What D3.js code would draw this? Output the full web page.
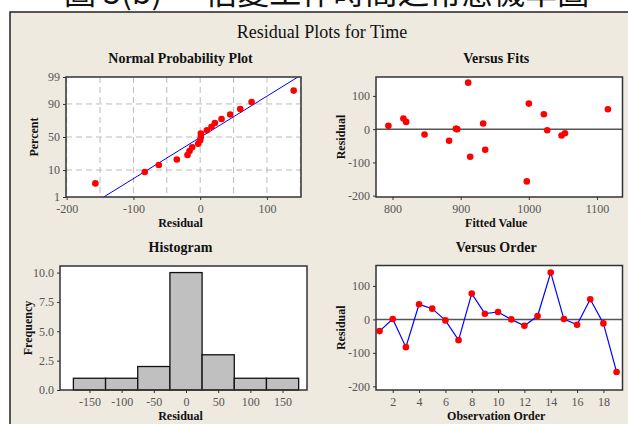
<!DOCTYPE html>
<html>
<head>
<meta charset="utf-8">
<script src="https://cdn.jsdelivr.net/npm/d3@7"></script>
<style>
body{margin:0;background:#fff;overflow:hidden;}
svg text{font-family:"Liberation Serif","DejaVu Serif",serif;}
.tick text{fill:#555;font-size:12px;}
.tick line{stroke:#333;}
.domain{display:none;}
.ttl{font-weight:bold;font-size:14px;fill:#111;}
.lab{font-weight:bold;font-size:12px;fill:#111;}
</style>
</head>
<body>
<svg id="chart" width="628" height="424"></svg>
<script>
//データ
var residuals=[-35,1,-83,45,32,-3,-62,77,17,22,0,-19,10,140,1,-16,60,-12,-157];
var fits=[883,893,914,1022,816,1027,936,1000,933,820,895,1048,794,911,894,847,1116,1053,997];
var order=d3.range(1,20);
var pctTicks=[1,10,50,90,99];
var histBins=[-175,-125,-75,-25,25,75,125,175];

var svg=d3.select("#chart");

//上の切れた見出し
svg.append("text")
	.attr("x",64).attr("y",4)
	.style("font-family","'Noto Sans CJK TC'")
	.style("font-size","32px")
	.style("fill","#111")
	.text("圖 5(b) — 估變工作時間之常態機率圖");

//外枠
svg.append("rect")
	.attr("x",10).attr("y",12).attr("width",640).attr("height",440)
	.attr("fill","#eeeae0").attr("stroke","#222").attr("stroke-width",1.5);

svg.append("text")
	.attr("x",322).attr("y",38)
	.attr("text-anchor","middle")
	.style("font-size","18px").style("fill","#111")
	.text("Residual Plots for Time");

//逆正規分布（Acklam）
function qnorm(p){
	var a=[-39.69683028665376,220.9460984245205,-275.9285104469687,138.3577518672690,-30.66479806614716,2.506628277459239];
	var b=[-54.47609879822406,161.5858368580409,-155.6989798598866,66.80131188771972,-13.28068155288572];
	var c=[-0.007784894002430293,-0.3223964580411365,-2.400758277161838,-2.549732539343734,4.374664141464968,2.938163982698783];
	var d=[0.007784695709041462,0.3224671290700398,2.445134137142996,3.754408661907416];
	var q,r;
	if(p<0.02425){
		q=Math.sqrt(-2*Math.log(p));
		return (((((c[0]*q+c[1])*q+c[2])*q+c[3])*q+c[4])*q+c[5])/((((d[0]*q+d[1])*q+d[2])*q+d[3])*q+1);
	}else if(p>1-0.02425){
		q=Math.sqrt(-2*Math.log(1-p));
		return -(((((c[0]*q+c[1])*q+c[2])*q+c[3])*q+c[4])*q+c[5])/((((d[0]*q+d[1])*q+d[2])*q+d[3])*q+1);
	}
	q=p-0.5;r=q*q;
	return (((((a[0]*r+a[1])*r+a[2])*r+a[3])*r+a[4])*r+a[5])*q/(((((b[0]*r+b[1])*r+b[2])*r+b[3])*r+b[4])*r+1);
}

function plain(d){return String(d);}

function panelBox(b){
	svg.append("rect")
		.attr("x",b.x0).attr("y",b.y0).attr("width",b.x1-b.x0).attr("height",b.y1-b.y0)
		.attr("fill","#fff");
}
function panelFrame(b){
	svg.append("rect")
		.attr("x",b.x0).attr("y",b.y0).attr("width",b.x1-b.x0).attr("height",b.y1-b.y0)
		.attr("fill","none").attr("stroke","#333").attr("stroke-width",1.5);
}
function titles(b,title,xlab,ylab,ylabX){
	var cx=(b.x0+b.x1)/2;
	svg.append("text").attr("class","ttl").attr("x",cx-3).attr("y",b.y0-14)
		.attr("text-anchor","middle").text(title);
	svg.append("text").attr("class","lab").attr("x",cx-3).attr("y",b.y1+30)
		.attr("text-anchor","middle").text(xlab);
	svg.append("text").attr("class","lab")
		.attr("transform","translate("+ylabX+","+((b.y0+b.y1)/2)+") rotate(-90)")
		.attr("text-anchor","middle").text(ylab);
}
function axes(b,x,y,xt,yt,yfmt){
	svg.append("g").attr("transform","translate(0,"+b.y1+")")
		.call(d3.axisBottom(x).tickValues(xt).tickSize(3).tickPadding(4).tickFormat(plain));
	var ya=d3.axisLeft(y).tickValues(yt).tickSize(3).tickPadding(3).tickFormat(yfmt||plain);
	svg.append("g").attr("transform","translate("+b.x0+",0)").call(ya);
}

//1. Normal Probability Plot
var b1={x0:66,x1:301,y0:77,y1:197};
var n=residuals.length;
var sorted=residuals.slice().sort(function(a,b){return a-b;});
var mean=d3.mean(residuals),sd=d3.deviation(residuals);
var x1=d3.scaleLinear().domain([-201,151]).range([b1.x0,b1.x1]);
var y1=d3.scaleLinear().domain([qnorm(0.01),qnorm(0.99)]).range([b1.y1,b1.y0]);
panelBox(b1);
svg.append("g").selectAll("line").data(d3.range(-200,151,50)).enter().append("line")
	.attr("x1",function(d){return x1(d);}).attr("x2",function(d){return x1(d);})
	.attr("y1",b1.y0).attr("y2",b1.y1)
	.attr("stroke","#bbb").attr("stroke-dasharray","6,4");
svg.append("g").selectAll("line").data([10,50,90]).enter().append("line")
	.attr("x1",b1.x0).attr("x2",b1.x1)
	.attr("y1",function(d){return y1(qnorm(d/100));}).attr("y2",function(d){return y1(qnorm(d/100));})
	.attr("stroke","#bbb").attr("stroke-dasharray","6,4");
var zLo=qnorm(0.01),zHi=qnorm(0.99);
svg.append("line")
	.attr("x1",x1(mean+zLo*sd)).attr("y1",y1(zLo))
	.attr("x2",x1(mean+zHi*sd)).attr("y2",y1(zHi))
	.attr("stroke","#0000ff").attr("stroke-width",1);
svg.append("g").selectAll("circle").data(sorted).enter().append("circle")
	.attr("cx",function(d){return x1(d);})
	.attr("cy",function(d,i){return y1(qnorm((i+1-0.3)/(n+0.4)));})
	.attr("r",3.3).attr("fill","#ff0000");
panelFrame(b1);
axes(b1,x1,y1,[-200,-100,0,100],pctTicks.map(function(p){return qnorm(p/100);}),
	function(d,i){return String(pctTicks[i]);});
titles(b1,"Normal Probability Plot","Residual","Percent",38);

//2. Versus Fits
var b2={x0:376,x1:622.5,y0:77,y1:197};
var x2=d3.scaleLinear().domain([775.8,1137.4]).range([b2.x0,b2.x1]);
var y2=d3.scaleLinear().domain([-204,157]).range([b2.y1,b2.y0]);
panelBox(b2);
svg.append("line").attr("x1",b2.x0).attr("x2",b2.x1).attr("y1",y2(0)).attr("y2",y2(0))
	.attr("stroke","#555").attr("stroke-width",1.5);
svg.append("g").selectAll("circle").data(residuals).enter().append("circle")
	.attr("cx",function(d,i){return x2(fits[i]);})
	.attr("cy",function(d){return y2(d);})
	.attr("r",3.3).attr("fill","#ff0000");
panelFrame(b2);
axes(b2,x2,y2,[800,900,1000,1100],[-200,-100,0,100]);
titles(b2,"Versus Fits","Fitted Value","Residual",345);

//3. Histogram
var b3={x0:60,x1:307,y0:266,y1:390};
var x3=d3.scaleLinear().domain([-195.8,188]).range([b3.x0,b3.x1]);
var y3=d3.scaleLinear().domain([0,10.56]).range([b3.y1,b3.y0]);
var bins=d3.bin().domain([-175,175]).thresholds(histBins.slice(1,-1))(residuals);
panelBox(b3);
svg.append("g").selectAll("rect").data(bins).enter().append("rect")
	.attr("x",function(d){return x3(d.x0);})
	.attr("width",function(d){return x3(d.x1)-x3(d.x0);})
	.attr("y",function(d){return y3(d.length);})
	.attr("height",function(d){return y3(0)-y3(d.length);})
	.attr("fill","#c0c0c0").attr("stroke","#111").attr("stroke-width",1.3);
panelFrame(b3);
axes(b3,x3,y3,d3.range(-150,151,50),[0,2.5,5,7.5,10],function(d){return d.toFixed(1);});
titles(b3,"Histogram","Residual","Frequency",32);

//4. Versus Order
var b4={x0:376,x1:622.5,y0:265.5,y1:390};
var x4=d3.scaleLinear().domain([0.73,19.45]).range([b4.x0,b4.x1]);
var y4=d3.scaleLinear().domain([-211,161]).range([b4.y1,b4.y0]);
panelBox(b4);
svg.append("line").attr("x1",b4.x0).attr("x2",b4.x1).attr("y1",y4(0)).attr("y2",y4(0))
	.attr("stroke","#555").attr("stroke-width",1.5);
svg.append("path").datum(residuals)
	.attr("d",d3.line().x(function(d,i){return x4(order[i]);}).y(function(d){return y4(d);}))
	.attr("fill","none").attr("stroke","#0000ff").attr("stroke-width",1.2);
svg.append("g").selectAll("circle").data(residuals).enter().append("circle")
	.attr("cx",function(d,i){return x4(order[i]);})
	.attr("cy",function(d){return y4(d);})
	.attr("r",3.3).attr("fill","#ff0000");
panelFrame(b4);
axes(b4,x4,y4,d3.range(2,19,2),[-200,-100,0,100]);
titles(b4,"Versus Order","Observation Order","Residual",345);
</script>
</body>
</html>
